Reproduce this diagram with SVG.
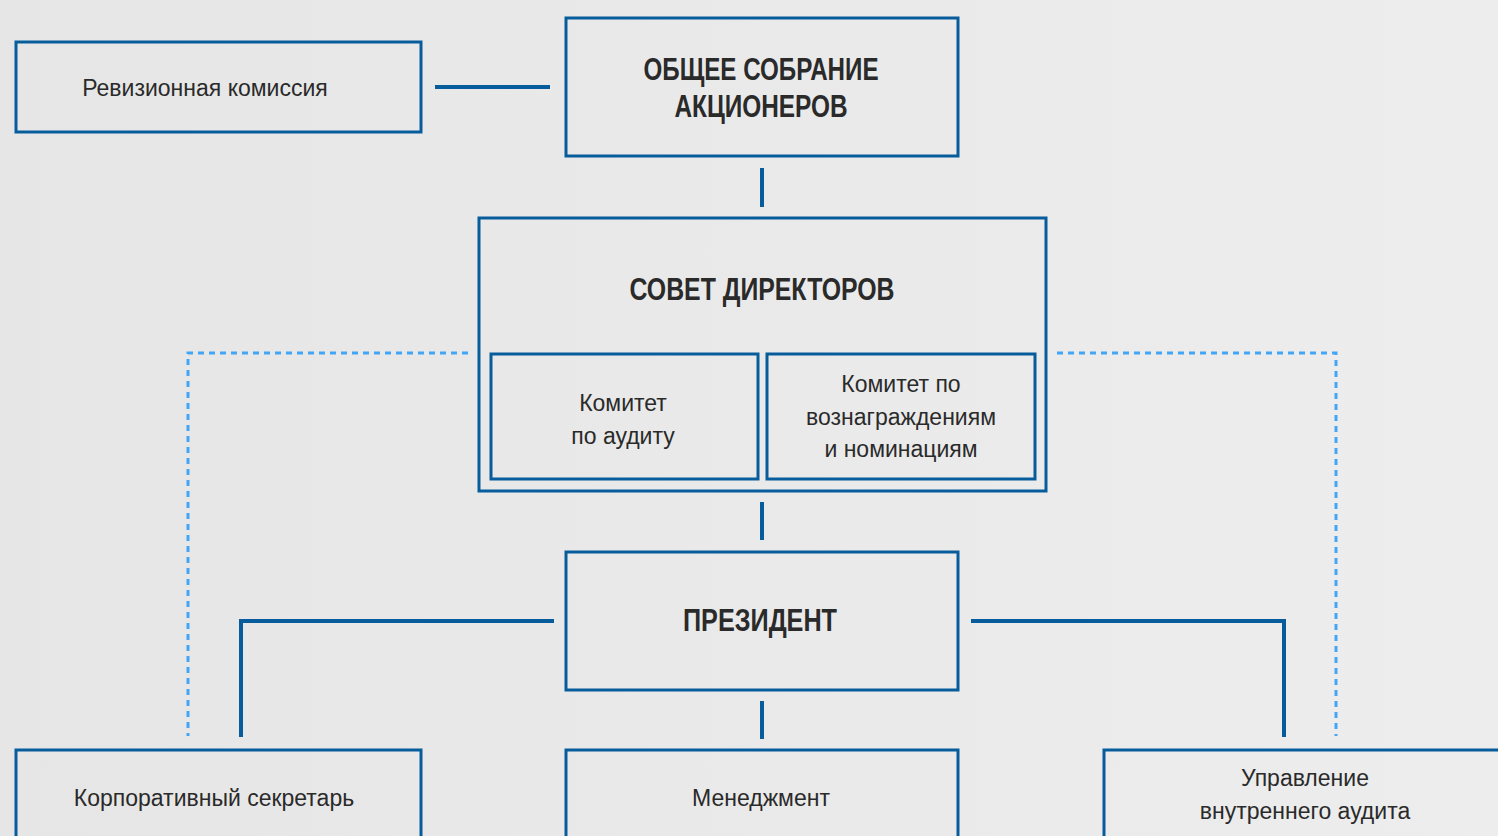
<svg xmlns="http://www.w3.org/2000/svg" width="1498" height="836" viewBox="0 0 1498 836">
<defs>
<linearGradient id="bg" x1="0" y1="0" x2="1" y2="0">
<stop offset="0" stop-color="#e6e6e6"/>
<stop offset="1" stop-color="#ededed"/>
</linearGradient>
<style>
.box{fill:none;stroke:#075c9c;stroke-width:3}
.ln{fill:none;stroke:#075c9c;stroke-width:4}
.dot{fill:none;stroke:#42a5f5;stroke-width:3;stroke-dasharray:6 5}
.t{font-family:"Liberation Sans Narrow","Liberation Sans",Arial,sans-serif;font-size:23px;fill:#2a2a2a;text-anchor:middle}
.b{font-family:"Liberation Sans Narrow","Liberation Sans",Arial,sans-serif;font-size:31px;font-weight:bold;fill:#2a2a2a;text-anchor:middle}
</style>
</defs>
<rect width="1498" height="836" fill="url(#bg)"/>
<g id="connectors">
<line class="ln" x1="435" y1="87" x2="550" y2="87"/>
<line class="ln" x1="762" y1="168" x2="762" y2="207"/>
<line class="ln" x1="762" y1="502" x2="762" y2="540"/>
<line class="ln" x1="762" y1="701" x2="762" y2="739"/>
<polyline class="ln" points="554,621 241,621 241,737"/>
<polyline class="ln" points="971,621 1284,621 1284,737"/>
<polyline class="dot" points="468,353 188,353 188,736"/>
<polyline class="dot" points="1057,353 1336,353 1336,736"/>
</g>
<g id="revision"><rect class="box" x="16" y="42" width="405" height="90"/><text class="t" x="205" y="96">Ревизионная комиссия</text></g>
<g id="meeting"><rect class="box" x="566" y="18" width="392" height="138"/><text class="b" x="761" y="80" textLength="235" lengthAdjust="spacingAndGlyphs">ОБЩЕЕ СОБРАНИЕ</text><text class="b" x="761" y="117" textLength="173" lengthAdjust="spacingAndGlyphs">АКЦИОНЕРОВ</text></g>
<g id="board"><rect class="box" x="479" y="218" width="567" height="273"/><text class="b" x="762" y="300" textLength="265" lengthAdjust="spacingAndGlyphs">СОВЕТ ДИРЕКТОРОВ</text></g>
<g id="audit-committee"><rect class="box" x="491" y="354" width="267" height="125"/><text class="t" x="623" y="411">Комитет</text><text class="t" x="623" y="444">по аудиту</text></g>
<g id="nomination-committee"><rect class="box" x="767" y="354" width="268" height="125"/><text class="t" x="901" y="392">Комитет по</text><text class="t" x="901" y="425">вознаграждениям</text><text class="t" x="901" y="457">и номинациям</text></g>
<g id="president"><rect class="box" x="566" y="552" width="392" height="138"/><text class="b" x="760" y="631" textLength="154" lengthAdjust="spacingAndGlyphs">ПРЕЗИДЕНТ</text></g>
<g id="secretary"><rect class="box" x="16" y="750" width="405" height="100"/><text class="t" x="214" y="806">Корпоративный секретарь</text></g>
<g id="management"><rect class="box" x="566" y="750" width="392" height="100"/><text class="t" x="761" y="806">Менеджмент</text></g>
<g id="internal-audit"><rect class="box" x="1104" y="750" width="410" height="100"/><text class="t" x="1305" y="786">Управление</text><text class="t" x="1305" y="819">внутреннего аудита</text></g>
</svg>
